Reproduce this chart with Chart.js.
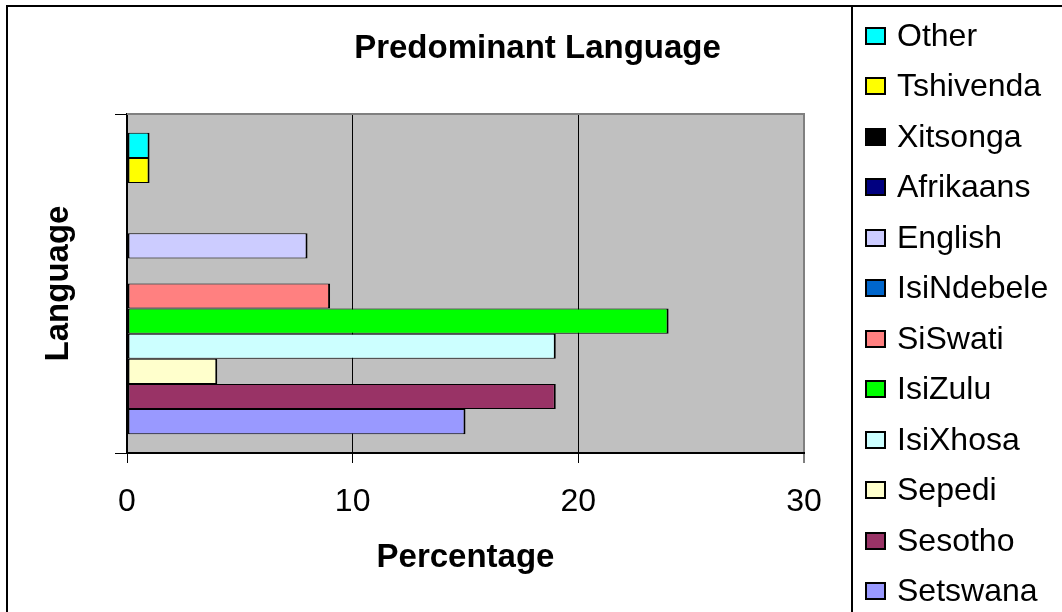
<!DOCTYPE html>
<html>
<head>
<meta charset="utf-8">
<title>Predominant Language</title>
<script src="https://cdn.jsdelivr.net/npm/chart.js@4/dist/chart.umd.min.js"></script>
<style>
  html, body { margin: 0; padding: 0; background: #fff; overflow: hidden; }
  body { width: 1062px; height: 612px; position: relative; font-family: "Liberation Sans", Arial, sans-serif; color: #000; }
  #chart { position: absolute; left: 0; top: 0; }
  .frame { position: absolute; left: 6px; top: 5px; width: 1200px; height: 800px; border: 2px solid #000; pointer-events: none; }
  .divider { position: absolute; left: 851px; top: 5px; width: 2px; height: 800px; background: #000; pointer-events: none; }
  .title { position: absolute; top: 30px; left: 537.5px; transform: translateX(-50%); font-size: 33px; line-height: 33px; font-weight: bold; white-space: nowrap; }
  .legend-text { position: absolute; left: 897px; font-size: 32px; line-height: 32px; white-space: nowrap; }
  .legend-box { position: absolute; left: 865px; width: 21px; height: 18px; box-sizing: border-box; border: 2px solid #000; }
</style>
</head>
<body>
<canvas id="chart" width="1062" height="612"></canvas>
<div class="frame"></div>
<div class="divider"></div>
<div class="title">Predominant Language</div>
<div id="legend"></div>
<script>
// Languages listed top to bottom, as they appear in the legend
const languages = ['Other', 'Tshivenda', 'Xitsonga', 'Afrikaans', 'English', 'IsiNdebele',
                   'SiSwati', 'IsiZulu', 'IsiXhosa', 'Sepedi', 'Sesotho', 'Setswana'];
// Share of respondents (%) per language
const percentages = [1, 1, 0, 0, 8, 0, 9, 24, 19, 4, 19, 15];
const colours = ['#00FFFF', '#FFFF00', '#000000', '#000080', '#CCCCFF', '#0066CC',
                 '#FF8080', '#00FF00', '#CCFFFF', '#FFFFCC', '#993366', '#9999FF'];
const categories = [''];
const xTicks = [0, 10, 20, 30];

const FONT = '"Liberation Sans", Arial, sans-serif';

// Grey plot background with a grey top edge
const plotBackground = {
  id: 'plotBackground',
  beforeDraw(chart) {
    const { ctx, chartArea: a } = chart;
    ctx.save();
    ctx.fillStyle = '#C0C0C0';
    ctx.fillRect(a.left, a.top, a.right - a.left, a.bottom - a.top);
    ctx.restore();
  },
  beforeDatasetsDraw(chart) {
    const { ctx, chartArea: a } = chart;
    ctx.save();
    ctx.strokeStyle = '#808080';
    ctx.lineWidth = 2;
    ctx.beginPath();
    ctx.moveTo(a.left, Math.round(a.top));
    ctx.lineTo(a.right + 1, Math.round(a.top));
    ctx.stroke();
    ctx.restore();
  }
};

const datasets = languages.map((name, i) => ({
  label: name,
  data: [percentages[i]],
  backgroundColor: colours[i],
  borderColor: '#000',
  borderWidth: { top: 1, bottom: 1, left: 2, right: 2 },
  borderSkipped: false,
  barPercentage: 1,
  categoryPercentage: 0.889
}));

new Chart(document.getElementById('chart'), {
  type: 'bar',
  data: { labels: categories, datasets },
  plugins: [plotBackground],
  options: {
    indexAxis: 'y',
    responsive: false,
    animation: false,
    events: [],
    layout: { padding: { left: 0, top: 114, right: 258, bottom: 0 } },
    plugins: {
      legend: { display: false },
      title: { display: false },
      tooltip: { enabled: false }
    },
    scales: {
      x: {
        type: 'linear',
        min: xTicks[0],
        max: xTicks[xTicks.length - 1],
        afterBuildTicks(scale) { scale.ticks = xTicks.map(v => ({ value: v })); },
        afterFit(scale) { scale.height = 159; },
        ticks: { color: '#000', font: { family: FONT, size: 32 }, padding: 20, maxRotation: 0 },
        grid: {
          color: c => (c.tick && c.tick.value === xTicks[xTicks.length - 1]) ? '#808080' : '#000',
          lineWidth: c => (c.tick && c.tick.value === xTicks[xTicks.length - 1]) ? 2 : 1,
          tickColor: '#000',
          tickWidth: 1,
          tickLength: 10,
          drawTicks: true
        },
        border: { display: true, color: '#000', width: 2 },
        title: {
          display: true,
          text: 'Percentage',
          color: '#000',
          font: { family: FONT, size: 33, weight: 'bold' },
          padding: { top: 0, bottom: 34 }
        }
      },
      y: {
        type: 'category',
        offset: true,
        afterFit(scale) { scale.width = 127; },
        ticks: { display: false },
        grid: {
          display: true,
          offset: true,
          drawOnChartArea: false,
          drawTicks: true,
          tickLength: 12,
          color: '#000',
          tickColor: '#000'
        },
        border: { display: true, color: '#000', width: 2 },
        title: {
          display: true,
          text: 'Language',
          color: '#000',
          font: { family: FONT, size: 33, weight: 'bold' },
          padding: { top: 39, bottom: 0 }
        }
      }
    }
  }
});

// Legend, one row per language
const legend = document.getElementById('legend');
languages.forEach((name, i) => {
  const baseline = 46 + 50.5 * i;
  const box = document.createElement('div');
  box.className = 'legend-box';
  box.style.top = (baseline - 19.5) + 'px';
  box.style.background = colours[i];
  legend.appendChild(box);
  const label = document.createElement('div');
  label.className = 'legend-text';
  label.style.top = (baseline - 27.1) + 'px';
  label.textContent = name;
  legend.appendChild(label);
});
</script>
</body>
</html>
